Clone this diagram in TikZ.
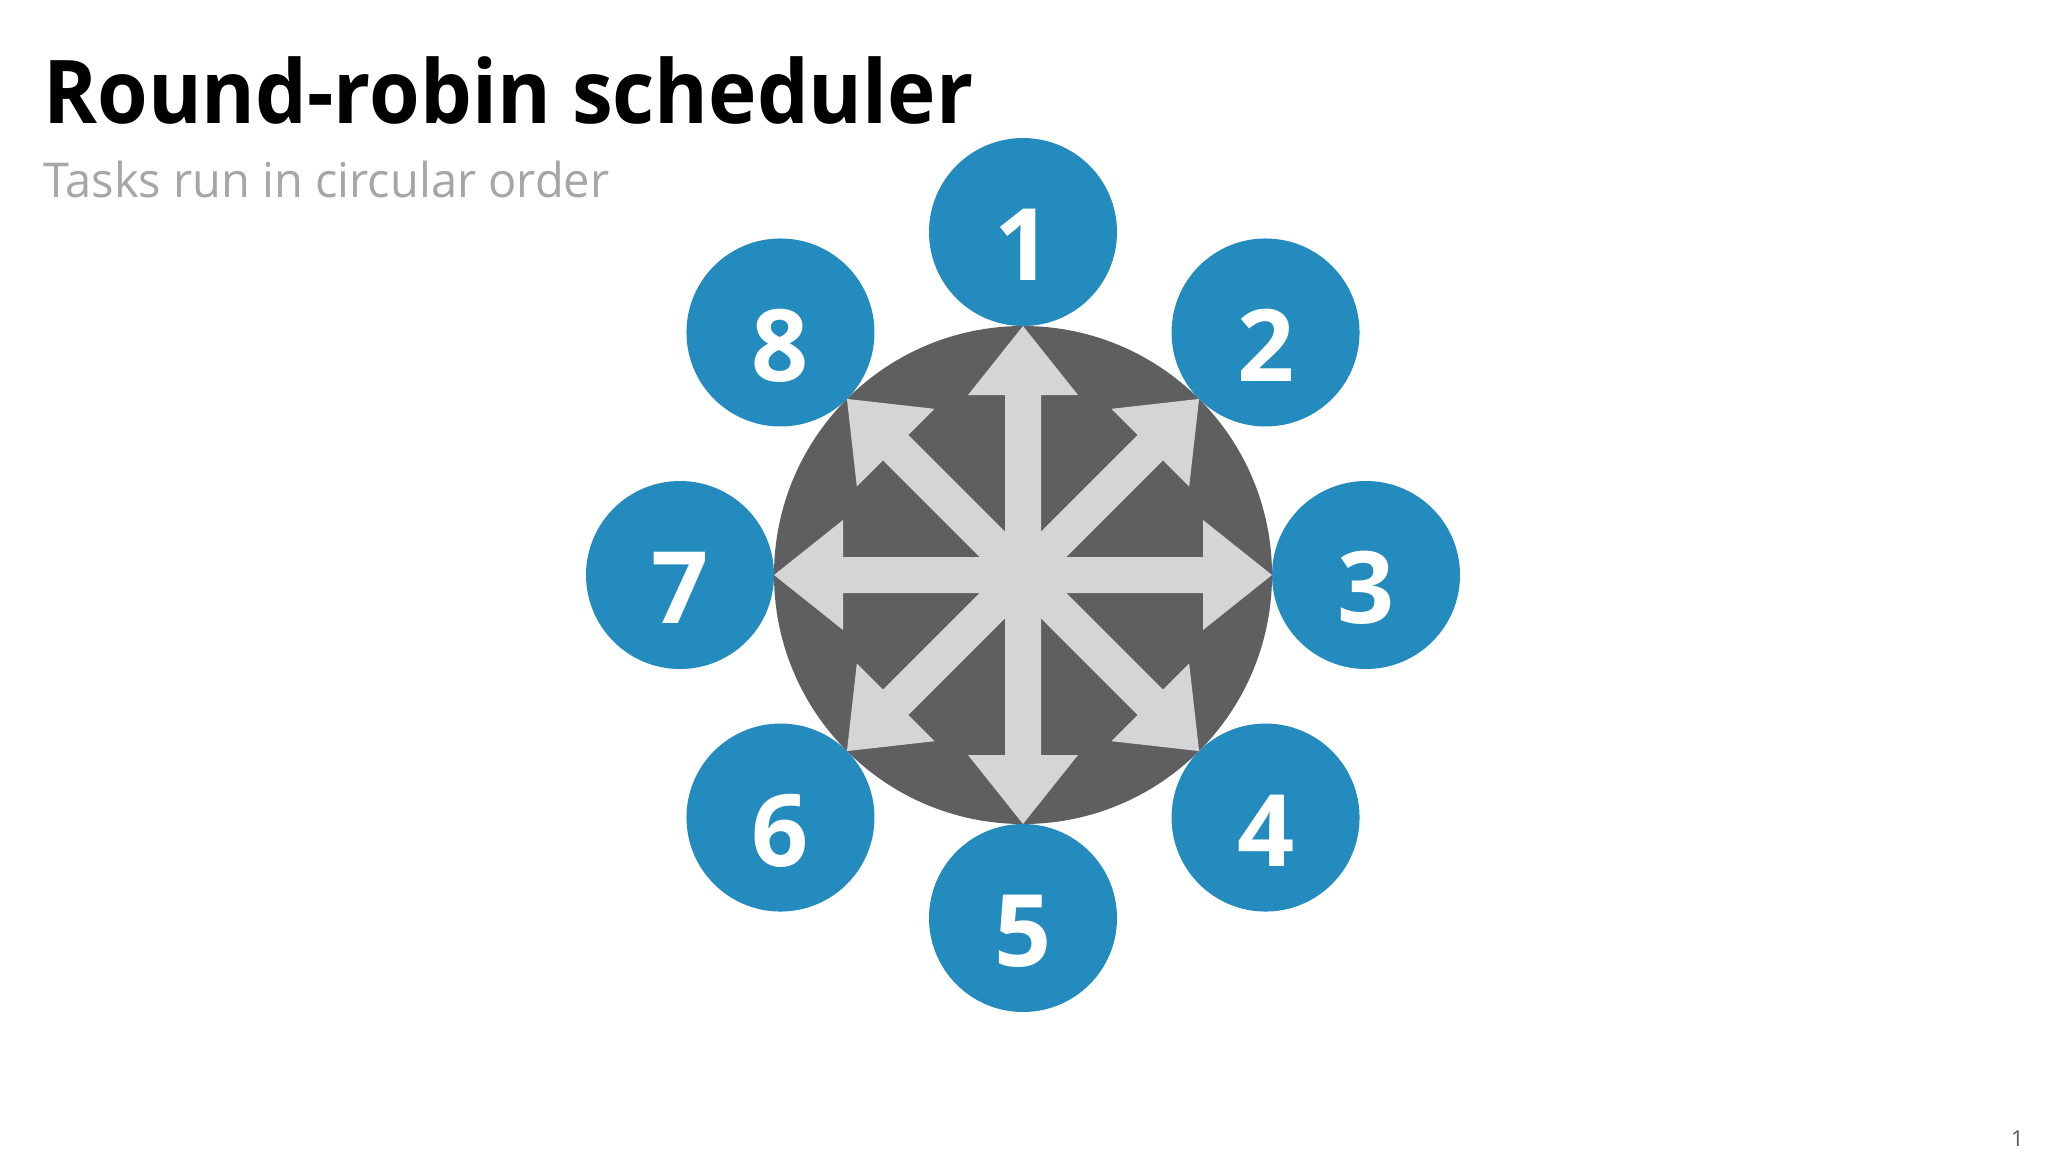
\documentclass[tikz,border=0pt]{standalone}
\usepackage{fontspec}
\setmainfont{Open Sans}
\usepackage{graphicx}
\definecolor{taskblue}{HTML}{248BBF}
\definecolor{hubgray}{HTML}{5F5E61}
\definecolor{arrowgray}{HTML}{D5D4D7}
\definecolor{subgray}{HTML}{A6A6A6}
\definecolor{pagegray}{HTML}{595959}
\newlength\titlew
\newlength\subw
\tikzset{
  hubdisc/.style={circle, fill=hubgray, minimum size=249pt, inner sep=0pt, outer sep=0pt},
  taskdisc/.style={circle, fill=taskblue, minimum size=94pt, inner sep=0pt, outer sep=0pt},
  digit/.style={text=white, inner sep=0pt, font=\bfseries\fontsize{50}{50}\selectfont},
  spoke/.style={fill=arrowgray},
}
\begin{document}
\settowidth\titlew{\bfseries\fontsize{44}{44}\selectfont Round-robin scheduler}%
\settowidth\subw{\fontsize{24}{24}\selectfont Tasks run in circular order}%
\pgfmathsetmacro\tsx{465/\titlew}%
\pgfmathsetmacro\ssx{283/\subw}%
\begin{tikzpicture}[x=0.5pt,y=-0.5pt]
\useasboundingbox[fill=white] (0,0) rectangle (2048,1152);
\node[anchor=base west, inner sep=0pt, font=\bfseries\fontsize{44}{44}\selectfont] (title) at (43,123) {\scalebox{\tsx}[1]{Round-robin scheduler}};
\node[anchor=base west, inner sep=0pt, text=subgray, font=\fontsize{24}{24}\selectfont] (subtitle) at (43,197) {\scalebox{\ssx}[1]{Tasks run in circular order}};
\node[anchor=base east, inner sep=0pt, text=pagegray, font=\fontsize{11}{11}\selectfont] (page) at (2024,1146) {1};
\node[hubdisc] (hub) at (1023,575) {};
\foreach \k in {1,...,8} {
  \pgfmathsetmacro\ang{(\k-1)*45}
  \node[taskdisc] (t\k) at ([shift={({343*sin(\ang)},{-343*cos(\ang)})}]hub.center) {};
  \node[digit] (d\k) at ([yshift=-6.5pt]t\k.center) {\k};
}
\foreach \a in {0,45,90,135} {
  \fill[spoke, shift={(hub.center)}, rotate=\a] (-249,0) -- (-180,55) -- (-180,18) -- (180,18) -- (180,55) -- (249,0) -- (180,-55) -- (180,-18) -- (-180,-18) -- (-180,-55) -- cycle;
}
\end{tikzpicture}
\end{document}
